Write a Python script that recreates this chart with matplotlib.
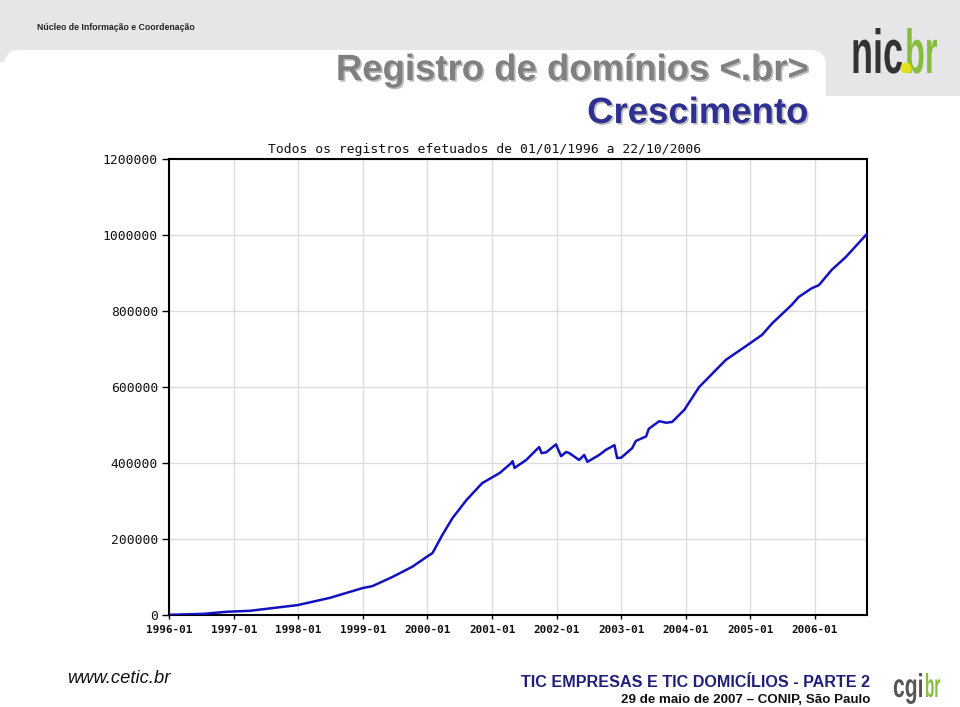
import matplotlib
matplotlib.use("Agg")
import matplotlib.pyplot as plt
import matplotlib.dates as mdates
import matplotlib.patheffects as pe
from matplotlib.patches import FancyBboxPatch, Rectangle, PathPatch, Circle
from matplotlib.textpath import TextPath
from matplotlib.font_manager import FontProperties
from matplotlib.transforms import Affine2D
import pandas as pd

# ---------------- data ----------------
dates = ["1996-01-01", "1996-07-12", "1996-11-24", "1997-04-01", "1997-12-28",
         "1998-06-28", "1999-01-01", "1999-02-24", "1999-06-17", "1999-10-08",
         "1999-12-28", "2000-01-30", "2000-03-25", "2000-05-22", "2000-08-10",
         "2000-11-06", "2001-02-14", "2001-04-20", "2001-04-27", "2001-05-08",
         "2001-07-13", "2001-09-24", "2001-10-08", "2001-11-03", "2001-12-28",
         "2002-01-26", "2002-02-24", "2002-03-14", "2002-03-29", "2002-05-08",
         "2002-06-06", "2002-06-24", "2002-08-29", "2002-10-08", "2002-11-24",
         "2002-12-09", "2003-01-01", "2003-03-04", "2003-03-25", "2003-05-22",
         "2003-06-06", "2003-08-04", "2003-09-13", "2003-10-16", "2003-12-24",
         "2004-03-17", "2004-05-11", "2004-08-14", "2004-10-12", "2004-12-14",
         "2005-03-07", "2005-05-05", "2005-08-22", "2005-10-01", "2005-12-14",
         "2006-01-23", "2006-04-05", "2006-06-24", "2006-10-22"]
registros = [500, 3000, 8500, 11000, 26000,
             45000, 71000, 76000, 100000, 127000,
             153000, 163000, 210000, 255000, 303000,
             347000, 374000, 400000, 405000, 387000,
             408000, 442000, 426000, 428000, 449000,
             418000, 429000, 426000, 421000, 408000,
             421000, 403000, 421000, 435000, 447000,
             413000, 414000, 439000, 458000, 470000,
             490000, 510000, 506000, 508000, 540000,
             600000, 626000, 671000, 690000, 710000,
             737000, 768000, 816000, 837000, 860000,
             868000, 908000, 942000, 1003000]
y_ticks = [0, 200000, 400000, 600000, 800000, 1000000, 1200000]
x_tick_years = list(range(1996, 2007))

chart_title = "Todos os registros efetuados de 01/01/1996 a 22/10/2006"
title1 = "Registro de domínios <.br>"
title2 = "Crescimento"
header = "Núcleo de Informação e Coordenação"
footer_left = "www.cetic.br"
footer_r1 = "TIC EMPRESAS E TIC DOMICÍLIOS - PARTE 2"
footer_r2 = "29 de maio de 2007 – CONIP, São Paulo"

# ---------------- figure ----------------
W, H = 960, 707
fig = plt.figure(figsize=(W / 100, H / 100), dpi=100)
fig.patch.set_facecolor("white")

bg = fig.add_axes([0, 0, 1, 1], zorder=0)
bg.set_xlim(0, W)
bg.set_ylim(H, 0)
bg.axis("off")

gray = "#e6e6e8"
bg.add_patch(Rectangle((0, 0), W, 62, facecolor=gray, edgecolor="none"))
bg.add_patch(Rectangle((815, 0), W - 815, 110, facecolor=gray, edgecolor="none"))
bg.add_patch(FancyBboxPatch((4, 50), 822, 800, boxstyle="round,pad=0,rounding_size=16",
                            facecolor="white", edgecolor="none"))
bg.add_patch(FancyBboxPatch((800, 96), 400, 800, boxstyle="round,pad=0,rounding_size=14",
                            facecolor="white", edgecolor="none"))

sans = ["Liberation Sans", "DejaVu Sans"]
mono = ["DejaVu Sans Mono"]

bg.text(37, 28, header, family=sans, weight="bold", fontsize=6.3,
        color="#222222", va="center", ha="left")

shadow = [pe.withSimplePatchShadow(offset=(1.2, -1.2), shadow_rgbFace="#444444", alpha=0.35)]
bg.text(808, 80, title1, family=sans, weight="bold", fontsize=26.3, color="#808080",
        ha="right", va="baseline", path_effects=shadow)
bg.text(808, 123, title2, family=sans, weight="bold", fontsize=26.3, color="#2e3192",
        ha="right", va="baseline", path_effects=shadow)


def fit_text(ax, s, x0, x1, ytop, ybase, color, family=sans, weight="bold"):
    tp = TextPath((0, 0), s, size=100, prop=FontProperties(family=family, weight=weight))
    v = tp.vertices
    minx, maxx = v[:, 0].min(), v[:, 0].max()
    maxy = v[:, 1].max()
    sx = (x1 - x0) / (maxx - minx)
    sy = (ybase - ytop) / maxy
    tr = Affine2D().translate(-minx, 0).scale(sx, -sy).translate(x0, ybase)
    ax.add_patch(PathPatch(tr.transform_path(tp), facecolor=color, edgecolor="none"))


# nic.br logo
fit_text(bg, "nic", 851, 902, 28, 73, "#333333")
fit_text(bg, "br", 905, 937, 28, 73, "#86bd3f")
bg.add_patch(Circle((906, 68), 5.5, facecolor="#e6e21a", edgecolor="none"))

# cgi.br logo
fit_text(bg, "cgi", 893, 922, 673, 697, "#555555")
fit_text(bg, "br", 925, 940, 673, 697, "#86bd3f")

# footer
bg.text(67, 683, footer_left, family=sans, style="italic", fontsize=13.2,
        color="#111111", ha="left", va="baseline")
bg.text(870, 687, footer_r1, family=sans, weight="bold", fontsize=11.6,
        color="#1f1f7a", ha="right", va="baseline")
bg.text(870, 703, footer_r2, family=sans, weight="bold", fontsize=9.6,
        color="#111111", ha="right", va="baseline")

# chart title
bg.text(485, 149, chart_title, family=mono, fontsize=9.4, color="#111111",
        ha="center", va="center")

# ---------------- chart ----------------
x0, x1, ytop, ybot = 169, 867, 159, 615
ax = fig.add_axes([x0 / W, (H - ybot) / H, (x1 - x0) / W, (ybot - ytop) / H], zorder=1)
ax.set_facecolor("white")

d = pd.to_datetime(dates)
ax.plot(d, registros, color="#1212c0", lw=1.8, solid_joinstyle="round", zorder=3)

ax.set_xlim(pd.Timestamp("1996-01-01"), pd.Timestamp("2006-10-22"))
ax.set_ylim(0, 1200000)
ax.set_yticks(y_ticks)
ax.set_yticklabels([str(v) for v in y_ticks])
ax.set_xticks([pd.Timestamp(f"{y}-01-01") for y in x_tick_years])
ax.xaxis.set_major_formatter(mdates.DateFormatter("%Y-%m"))

ax.grid(True, color="#dcdcdc", lw=1)
ax.set_axisbelow(True)
for side in ["left", "bottom", "top", "right"]:
    ax.spines[side].set_color("black")
    ax.spines[side].set_linewidth(1.5)

ax.tick_params(axis="y", direction="out", length=5, width=1, pad=3, labelsize=9.4)
ax.tick_params(axis="x", direction="out", length=3, width=1, pad=4, labelsize=7.9)
for lab in ax.get_yticklabels() + ax.get_xticklabels():
    lab.set_family(mono)
    lab.set_color("#111111")
for lab in ax.get_xticklabels():
    lab.set_weight("bold")

fig.savefig("out.png", dpi=100, facecolor="white")
